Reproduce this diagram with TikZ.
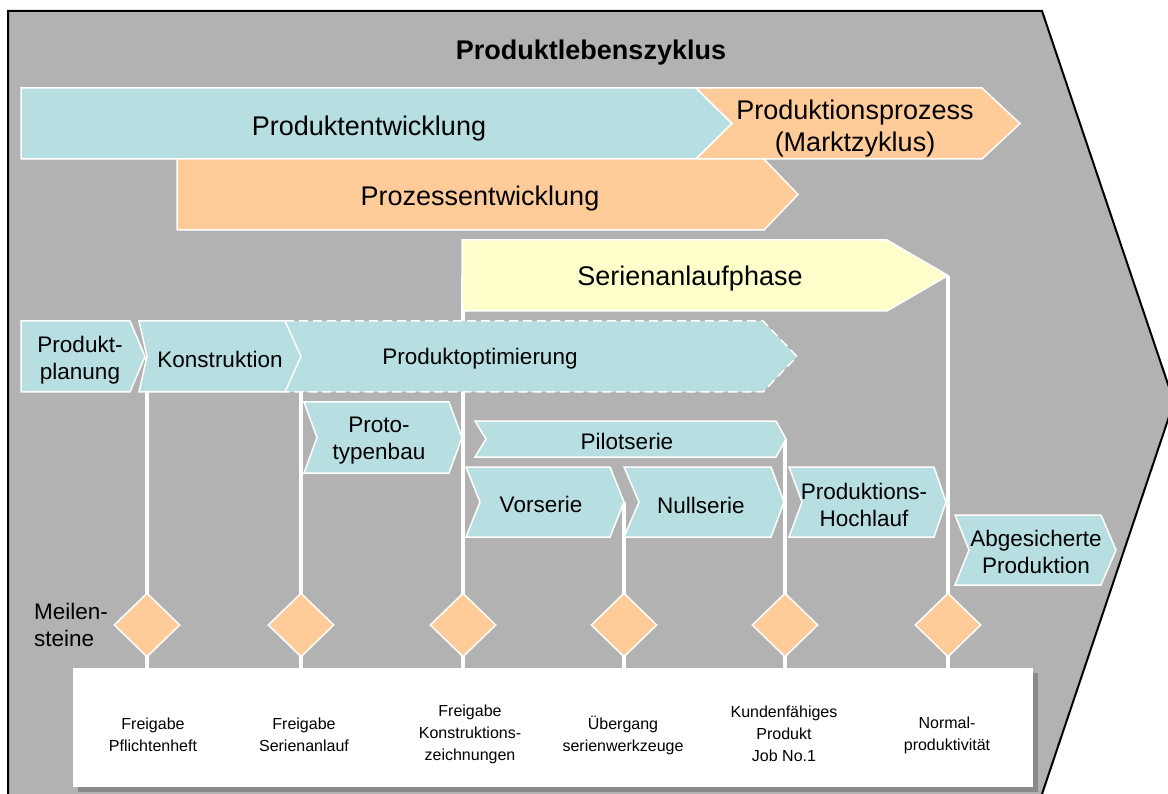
\documentclass[tikz,border=0pt]{standalone}
\usepackage{fontspec}
\setmainfont{Liberation Sans}
\usetikzlibrary{shapes.geometric}
\definecolor{bggrey}{HTML}{B2B2B2}
\definecolor{lblue}{HTML}{B7DEE0}
\definecolor{lorange}{HTML}{FFCC99}
\definecolor{lyellow}{HTML}{FFFFCC}
\definecolor{shadowgrey}{HTML}{8A8A8A}
% #1 fill, #2 x left, #3 y top, #4 x flat end, #5 y bottom, #6 tip depth, #7 notch depth
\newcommand\chev[7]{\path[arr, fill=#1] (#2,#3) -- (#4,#3) -- ({#4+#6},{(#3+#5)/2}) -- (#4,#5) -- (#2,#5) -- ({#2+#7},{(#3+#5)/2}) -- cycle;}
\begin{document}
\begin{tikzpicture}[x=1pt,y=-1pt,
  arr/.style={draw=white, line width=1.5pt, line join=miter},
  vline/.style={draw=white, line width=3.6pt},
  ms/.style={diamond, fill=lorange, draw=white, line width=1.5pt, minimum width=66pt, minimum height=64pt, inner sep=0pt},
  big/.style={font=\fontsize{27}{32}\selectfont, align=center, inner sep=0pt},
  mid/.style={font=\fontsize{22.5}{27}\selectfont, align=center, inner sep=0pt},
  small/.style={font=\fontsize{16}{22}\selectfont, align=center, inner sep=0pt}]
\useasboundingbox (0,0) rectangle (1168,794);
\clip (0,0) rectangle (1168,794);
% background chevron
\path[fill=bggrey, draw=black, line width=2pt] (8,11) -- (1042,11) -- (1174,402) -- (1040,800) -- (8,800) -- cycle;
% milestone box with shadow
\fill[shadowgrey] (78,673) rectangle (1038,792);
\node[fill=white, minimum width=960pt, minimum height=119pt, inner sep=0pt, anchor=north west] (wbox) at (73,668) {};
% line start points
\coordinate (t1) at (147,357);
\coordinate (t2) at (301,357);
\coordinate (t3) at (463,276);
\coordinate (t4) at (624,502);
\coordinate (t5) at (785,439);
\coordinate (t6) at (948,276);
\foreach \i in {1,...,6} {\draw[vline] (t\i) -- (t\i |- wbox.north);}
% phase arrows
\chev{lblue}{21}{88}{696}{159}{36}{0}
\chev{lorange}{696}{88}{982}{159}{38}{36}
\chev{lorange}{177}{159}{764}{230}{34}{0}
\chev{lyellow}{462}{240}{887}{311}{61}{0}
\chev{lblue}{21}{321}{130}{392}{15}{0}
\path[fill=lblue] (285,321) -- (763,321) -- (797,356.5) -- (763,392) -- (285,392) -- (301,356.5) -- cycle;
\draw[white, line width=1.5pt, dash pattern=on 9pt off 5pt] (285,321) -- (763,321) -- (797,356.5) -- (763,392) -- (285,392);
\chev{lblue}{139}{321}{285}{392}{16}{8}
\chev{lblue}{304}{402}{449}{473}{13}{13}
\chev{lblue}{475}{421}{776}{457}{10}{11}
\chev{lblue}{466}{467}{610}{537}{14}{14}
\chev{lblue}{624}{467}{771}{537}{13}{15}
\chev{lblue}{789}{467}{934}{537}{12}{13}
\chev{lblue}{955}{515}{1101}{585}{15}{14}
% milestones
\node[ms] (m1) at (147,625) {};
\node[ms] (m2) at (301,625) {};
\node[ms] (m3) at (463,625) {};
\node[ms] (m4) at (624,625) {};
\node[ms] (m5) at (785,625) {};
\node[ms] (m6) at (948,625) {};
% texts
\node[font=\bfseries\fontsize{27}{32}\selectfont, inner sep=0pt] (title) at (591,53) {Produktlebenszyklus};
\node[big] (pe) at (369,129) {Produktentwicklung};
\node[big] (pp) at (855,129) {Produktionsprozess\\(Marktzyklus)};
\node[big] (pz) at (480,199) {Prozessentwicklung};
\node[big] (sa) at (690,279) {Serienanlaufphase};
\node[mid] (pl) at (80,360) {Produkt-\\planung};
\node[mid] (ko) at (220,359) {Konstruktion};
\node[mid] (po) at (480,359) {Produktoptimierung};
\node[mid] (pt) at (379,441) {Proto-\\typenbau};
\node[mid] (ps) at (627,441) {Pilotserie};
\node[mid] (vs) at (541,504) {Vorserie};
\node[mid] (ns) at (701,505) {Nullserie};
\node[mid] (ph) at (864,505) {Produktions-\\Hochlauf};
\node[mid] (ap) at (1036,552) {Abgesicherte\\Produktion};
\node[mid, align=left, anchor=west] (mst) at (34,625) {Meilen-\\steine};
\node[small] (b1) at (153,735) {Freigabe\\Pflichtenheft};
\node[small] (b2) at (304,735) {Freigabe\\Serienanlauf};
\node[small] (b3) at (470,734) {Freigabe\\Konstruktions-\\zeichnungen};
\node[small] (b4) at (623,735) {Übergang\\serienwerkzeuge};
\node[small] (b5) at (784,734) {Kundenfähiges\\Produkt\\Job No.1};
\node[small] (b6) at (947,735) {Normal-\\produktivität};
\end{tikzpicture}
\end{document}
